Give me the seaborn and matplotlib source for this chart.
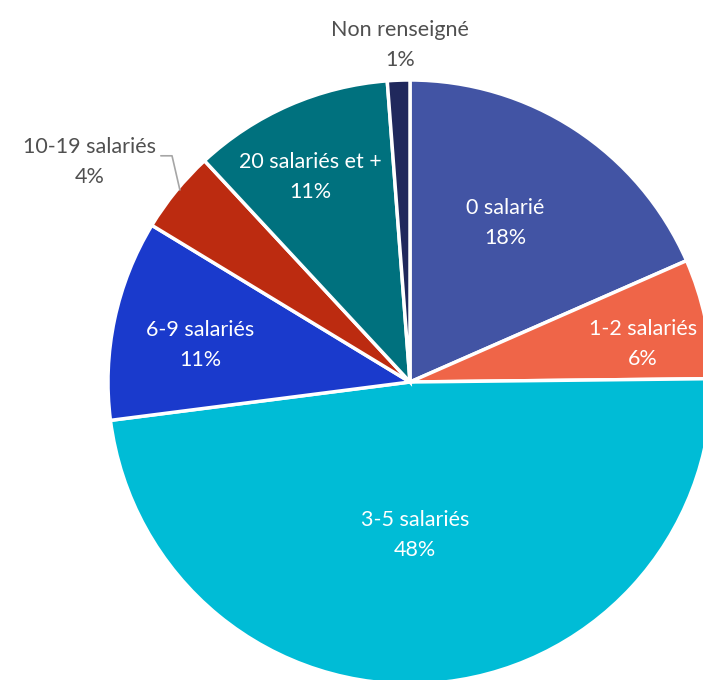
import seaborn as sns
import matplotlib.pyplot as plt

sns.set_theme(style="white")
plt.rcParams['font.family'] = ['Lato', 'DejaVu Sans']

# Data (clockwise from the top)
categories = ["0 salarié", "1-2 salariés", "3-5 salariés", "6-9 salariés",
              "10-19 salariés", "20 salariés et +", "Non renseigné"]
shares = [18.4, 6.4, 48.1, 10.7, 4.4, 10.7, 1.2]
colors = ["#4254A4", "#EF6548", "#00BCD6", "#1A3ACC", "#BC2B10", "#00717E", "#20285C"]

# label anchor positions, in radius units
label_pos = [(0.315, 0.527), (0.772, 0.126), (0.017, -0.507), (-0.695, 0.123),
             (-1.06, 0.728), (-0.331, 0.679), (-0.033, 1.116)]
inside = [True, True, True, True, False, True, False]

fig = plt.figure(figsize=(7.03, 6.80), dpi=100)
ax = fig.add_axes([0, 0, 1, 1])

ax.pie(shares, colors=colors, startangle=90, counterclock=False,
       wedgeprops=dict(edgecolor="white", linewidth=2.5))

total = sum(shares)
for cat, val, (x, y), ins in zip(categories, shares, label_pos, inside):
    ax.text(x, y, f"{cat}\n{val / total * 100:.0f}%", ha="center", va="center",
            fontsize=15.5, linespacing=1.65,
            color="white" if ins else "#505050")

# leader line for 10-19 salariés
ax.plot([-0.825, -0.788, -0.762], [0.749, 0.749, 0.636], color="#A6A6A6", lw=1.2)

ax.set_xlim(-410 / 302, 293 / 302)
ax.set_ylim(-298 / 302, 382 / 302)
ax.set_aspect("auto")
ax.axis("off")

fig.savefig("out.png", dpi=100)
